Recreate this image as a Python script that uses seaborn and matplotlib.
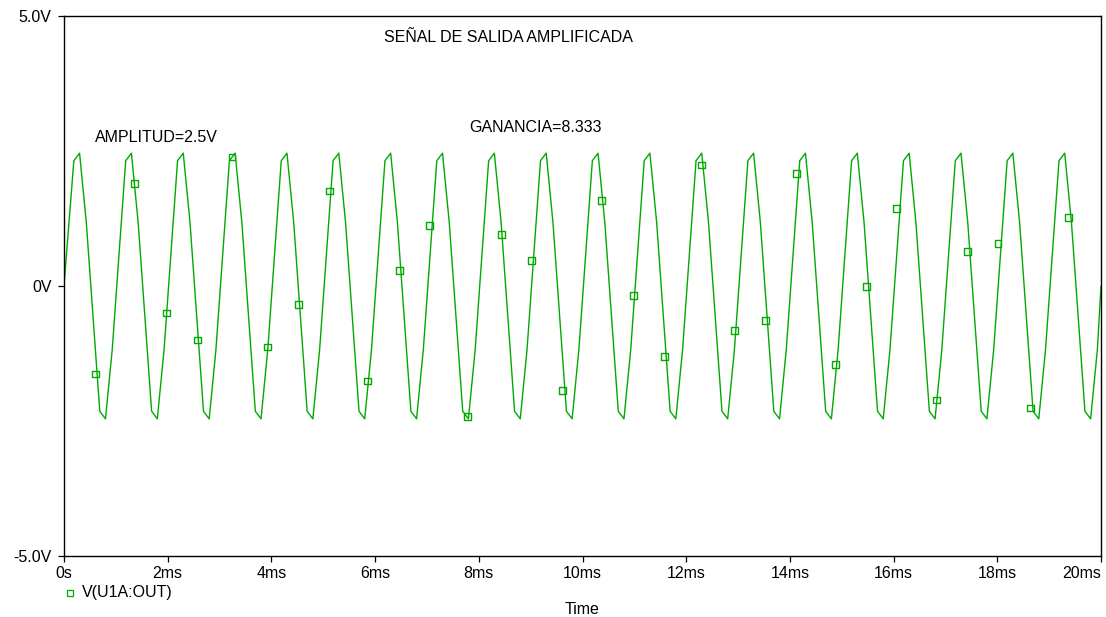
import matplotlib
matplotlib.use("Agg")
import matplotlib.pyplot as plt
from matplotlib.lines import Line2D
import seaborn as sns
import pandas as pd

# waveform vertices (time in ms, volts)
wave_ms = [
    0.00,
    0.19, 0.30, 0.43, 0.69, 0.80, 0.93,
    1.19, 1.30, 1.43, 1.69, 1.80, 1.93,
    2.19, 2.30, 2.43, 2.69, 2.80, 2.93,
    3.19, 3.30, 3.43, 3.69, 3.80, 3.93,
    4.19, 4.30, 4.43, 4.69, 4.80, 4.93,
    5.19, 5.30, 5.43, 5.69, 5.80, 5.93,
    6.19, 6.30, 6.43, 6.69, 6.80, 6.93,
    7.19, 7.30, 7.43, 7.69, 7.80, 7.93,
    8.19, 8.30, 8.43, 8.69, 8.80, 8.93,
    9.19, 9.30, 9.43, 9.69, 9.80, 9.93,
    10.19, 10.30, 10.43, 10.69, 10.80, 10.93,
    11.19, 11.30, 11.43, 11.69, 11.80, 11.93,
    12.19, 12.30, 12.43, 12.69, 12.80, 12.93,
    13.19, 13.30, 13.43, 13.69, 13.80, 13.93,
    14.19, 14.30, 14.43, 14.69, 14.80, 14.93,
    15.19, 15.30, 15.43, 15.69, 15.80, 15.93,
    16.19, 16.30, 16.43, 16.69, 16.80, 16.93,
    17.19, 17.30, 17.43, 17.69, 17.80, 17.93,
    18.19, 18.30, 18.43, 18.69, 18.80, 18.93,
    19.19, 19.30, 19.43, 19.69, 19.80, 19.93,
    20.00,
]
wave_v = [
    0.00,
    2.32, 2.46, 1.18, -2.32, -2.46, -1.18,
    2.32, 2.46, 1.18, -2.32, -2.46, -1.18,
    2.32, 2.46, 1.18, -2.32, -2.46, -1.18,
    2.32, 2.46, 1.18, -2.32, -2.46, -1.18,
    2.32, 2.46, 1.18, -2.32, -2.46, -1.18,
    2.32, 2.46, 1.18, -2.32, -2.46, -1.18,
    2.32, 2.46, 1.18, -2.32, -2.46, -1.18,
    2.32, 2.46, 1.18, -2.32, -2.46, -1.18,
    2.32, 2.46, 1.18, -2.32, -2.46, -1.18,
    2.32, 2.46, 1.18, -2.32, -2.46, -1.18,
    2.32, 2.46, 1.18, -2.32, -2.46, -1.18,
    2.32, 2.46, 1.18, -2.32, -2.46, -1.18,
    2.32, 2.46, 1.18, -2.32, -2.46, -1.18,
    2.32, 2.46, 1.18, -2.32, -2.46, -1.18,
    2.32, 2.46, 1.18, -2.32, -2.46, -1.18,
    2.32, 2.46, 1.18, -2.32, -2.46, -1.18,
    2.32, 2.46, 1.18, -2.32, -2.46, -1.18,
    2.32, 2.46, 1.18, -2.32, -2.46, -1.18,
    2.32, 2.46, 1.18, -2.32, -2.46, -1.18,
    2.32, 2.46, 1.18, -2.32, -2.46, -1.18,
    0.00,
]

# square markers on the trace
mark_ms = [0.613, 1.366, 1.983, 2.567, 3.242, 3.931, 4.523, 5.126, 5.859, 6.476,
           7.055, 7.782, 8.443, 9.009, 9.620, 10.366, 10.984, 11.574, 12.295, 12.938,
           13.522, 14.128, 14.880, 15.476, 16.061, 16.830, 17.425, 18.015, 18.646, 19.373]
mark_v = [-1.63, 1.90, -0.50, -1.00, 2.39, -1.13, -0.34, 1.76, -1.76, 0.29,
          1.12, -2.42, 0.95, 0.47, -1.94, 1.58, -0.17, -1.30, 2.24, -0.82,
          -0.64, 2.08, -1.45, -0.01, 1.43, -2.11, 0.64, 0.79, -2.26, 1.27]

x_ticks = [0, 2, 4, 6, 8, 10, 12, 14, 16, 18, 20]
x_labels = ["0s", "2ms", "4ms", "6ms", "8ms", "10ms", "12ms", "14ms", "16ms", "18ms", "20ms"]
y_ticks = [-5, 0, 5]
y_labels = ["-5.0V", "0V", "5.0V"]

green = "#00aa00"
fs = 11.5

sns.set_style("ticks")
plt.rcParams["font.family"] = ["Liberation Sans", "DejaVu Sans"]
plt.rcParams["text.color"] = "black"

W, H = 1106, 617
fig = plt.figure(figsize=(W / 100, H / 100), dpi=100)
ax = fig.add_axes([64 / W, 1 - 556 / H, (1101 - 64) / W, (556 - 16) / H])

wave_df = pd.DataFrame({"t": wave_ms, "v": wave_v})
mark_df = pd.DataFrame({"t": mark_ms, "v": mark_v})

sns.lineplot(data=wave_df, x="t", y="v", sort=True, estimator=None,
             color=green, linewidth=1.0, ax=ax)
sns.scatterplot(data=mark_df, x="t", y="v", marker="s", s=24,
                facecolors="none", edgecolor=green, linewidth=1.0, ax=ax, zorder=3)

ax.set_xlim(0, 20)
ax.set_ylim(-5, 5)
ax.set_xticks(x_ticks)
ax.set_xticklabels(x_labels)
ax.set_yticks(y_ticks)
ax.set_yticklabels(y_labels)
ax.tick_params(axis="both", direction="out", length=4, width=0.9, labelsize=fs, colors="black")
ax.tick_params(axis="x", pad=3.5)
ax.tick_params(axis="y", pad=5)
# last time label sits inside the window edge
ax.get_xticklabels()[-1].set_horizontalalignment("right")
ax.get_xticklabels()[-1].set_x(20.35)
ax.set_xlabel("")
ax.set_ylabel("")
for sp in ax.spines.values():
    sp.set_visible(True)
    sp.set_color("black")
    sp.set_linewidth(1.0)

# annotations placed like the probe window
fig.text(508 / W, 1 - 38 / H, "SEÑAL DE SALIDA AMPLIFICADA",
         ha="center", va="center", fontsize=fs, color="black")
fig.text(95 / W, 1 - 137 / H, "AMPLITUD=2.5V", ha="left", va="center",
         fontsize=fs, color="black")
fig.text(469 / W, 1 - 127 / H, "GANANCIA=8.333", ha="left", va="center",
         fontsize=fs, color="black")

# trace legend under the axis
fig.add_artist(Line2D([70 / W], [1 - 593 / H], marker="s", markersize=4.5,
                      markerfacecolor="none", markeredgecolor=green,
                      markeredgewidth=0.9, linestyle="none", transform=fig.transFigure))
fig.text(82 / W, 1 - 593 / H, "V(U1A:OUT)", ha="left", va="center", fontsize=fs, color="black")
fig.text(582 / W, 1 - 609 / H, "Time", ha="center", va="center", fontsize=fs, color="black")

fig.savefig("out.png", dpi=100)
